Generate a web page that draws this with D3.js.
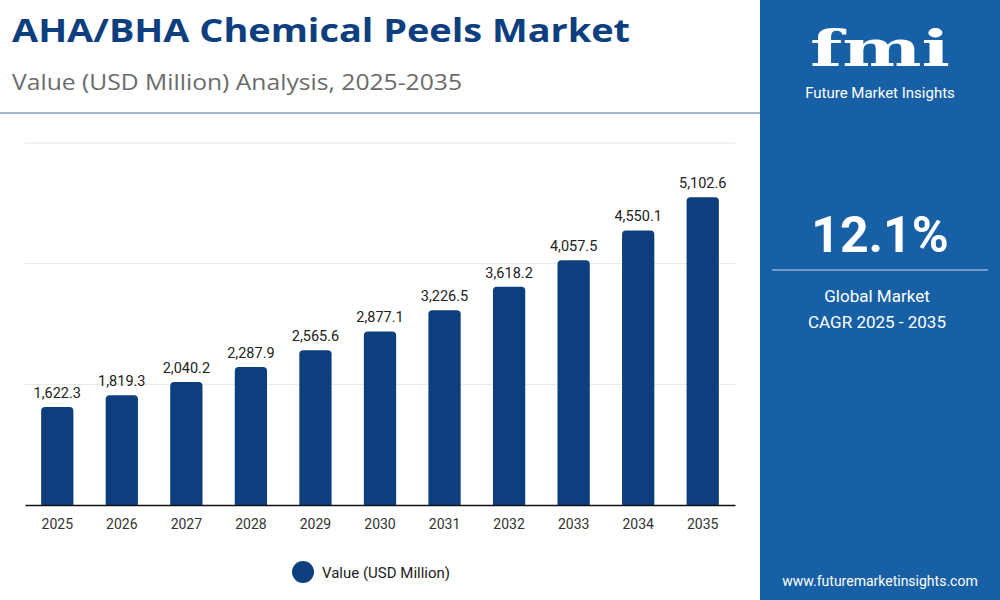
<!DOCTYPE html>
<html>
<head>
<meta charset="utf-8">
<script src="https://cdn.jsdelivr.net/npm/d3@7"></script>
<style>
  body { margin: 0; background: #fff; font-family: Roboto, "Open Sans", sans-serif; }
</style>
</head>
<body>
<div id="chart"></div>
<script>
const years = ["2025","2026","2027","2028","2029","2030","2031","2032","2033","2034","2035"];
const values = [1622.3, 1819.3, 2040.2, 2287.9, 2565.6, 2877.1, 3226.5, 3618.2, 4057.5, 4550.1, 5102.6];
const gridTicks = [0, 2000, 4000, 6000];

const W = 1000, H = 600;
const svg = d3.select("#chart").append("svg").attr("width", W).attr("height", H);

// header
svg.append("text").attr("x", 12).attr("y", 42)
    .attr("font-size", 32).attr("font-weight", 700).attr("fill", "#0d3f7f")
    .attr("font-family", "'Open Sans', sans-serif")
    .attr("textLength", 618).attr("lengthAdjust", "spacingAndGlyphs")
    .text("AHA/BHA Chemical Peels Market");
svg.append("text").attr("x", 12).attr("y", 90)
    .attr("font-size", 21).attr("fill", "#6b6b6b")
    .attr("font-family", "'Open Sans', sans-serif")
    .attr("textLength", 450).attr("lengthAdjust", "spacingAndGlyphs")
    .text("Value (USD Million) Analysis, 2025-2035");
svg.append("line").attr("x1", 0).attr("x2", 760).attr("y1", 113).attr("y2", 113)
    .attr("stroke", "#9fb6cc").attr("stroke-width", 2);

// right panel
svg.append("rect").attr("x", 760).attr("y", 0).attr("width", 240).attr("height", H).attr("fill", "#1760a6");
svg.append("text").attr("x", 880).attr("y", 66).attr("text-anchor", "middle")
    .attr("font-size", 50).attr("font-weight", 700).attr("fill", "#fff")
    .attr("font-family", "'DejaVu Serif', serif")
    .attr("textLength", 140).attr("lengthAdjust", "spacingAndGlyphs").text("fmi");
svg.append("text").attr("x", 880).attr("y", 98).attr("text-anchor", "middle")
    .attr("font-size", 15).attr("fill", "#fff").text("Future Market Insights");
svg.append("text").attr("x", 880).attr("y", 252).attr("text-anchor", "middle")
    .attr("font-size", 50).attr("font-weight", 700).attr("fill", "#fff").text("12.1%");
svg.append("line").attr("x1", 772).attr("x2", 988).attr("y1", 270).attr("y2", 270)
    .attr("stroke", "#8fb3d8").attr("stroke-width", 1.5);
svg.append("text").attr("x", 877).attr("y", 302).attr("text-anchor", "middle")
    .attr("font-size", 17).attr("fill", "#fff").text("Global Market");
svg.append("text").attr("x", 877).attr("y", 328).attr("text-anchor", "middle")
    .attr("font-size", 17).attr("fill", "#fff").text("CAGR 2025 - 2035");
svg.append("text").attr("x", 880).attr("y", 586).attr("text-anchor", "middle")
    .attr("font-size", 14).attr("fill", "#fff").text("www.futuremarketinsights.com");

// chart
const x = d3.scaleBand().domain(years).range([25, 735]).paddingInner(0.5).paddingOuter(0.25);
const y = d3.scaleLinear().domain([0, 6000]).range([505, 143]);

svg.append("g").selectAll("line").data(gridTicks.slice(1)).join("line")
    .attr("x1", 25).attr("x2", 735)
    .attr("y1", d => y(d)).attr("y2", d => y(d))
    .attr("stroke", "#e6e6e6");

const r = 4;
svg.append("g").selectAll("path").data(values).join("path")
    .attr("fill", "#0d3f7f")
    .attr("d", (d, i) => {
        const x0 = x(years[i]), w = x.bandwidth(), y0 = y(d), b = y(0);
        return `M${x0},${b}V${y0 + r}Q${x0},${y0} ${x0 + r},${y0}H${x0 + w - r}Q${x0 + w},${y0} ${x0 + w},${y0 + r}V${b}Z`;
    });

svg.append("g").selectAll("text").data(values).join("text")
    .attr("x", (d, i) => x(years[i]) + x.bandwidth() / 2)
    .attr("y", d => y(d) - 9)
    .attr("text-anchor", "middle").attr("font-size", 14.5).attr("fill", "#222")
    .text(d => d3.format(",.1f")(d));

const xAxis = svg.append("g").attr("transform", `translate(0,${y(0)})`)
    .call(d3.axisBottom(x).tickSize(0).tickPadding(14));
xAxis.select(".domain").attr("stroke", "#111").attr("stroke-width", 1.5);
xAxis.selectAll("text").attr("font-size", 14).attr("fill", "#333").attr("font-family", "Roboto, sans-serif");

// legend
svg.append("circle").attr("cx", 303).attr("cy", 572).attr("r", 11).attr("fill", "#0d3f7f");
svg.append("text").attr("x", 322).attr("y", 578).attr("font-size", 15).attr("fill", "#222")
    .text("Value (USD Million)");
</script>
</body>
</html>
